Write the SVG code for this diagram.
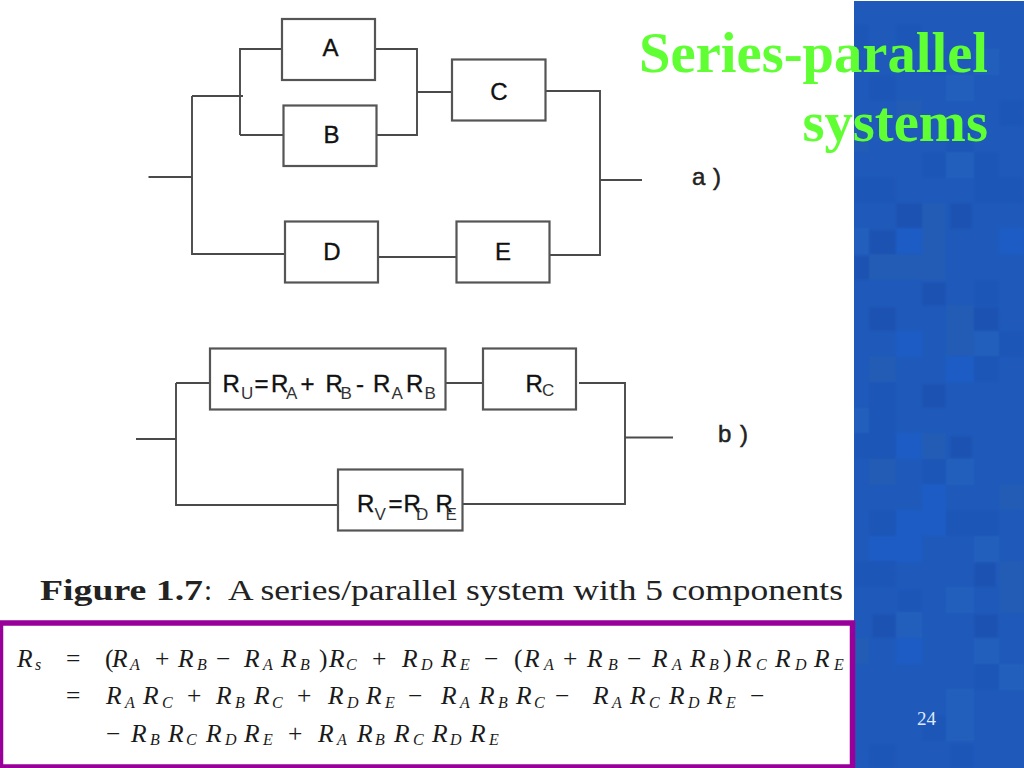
<svg xmlns="http://www.w3.org/2000/svg" width="1024" height="768" viewBox="0 0 1024 768">
<style>
.box{fill:#fff;stroke:#555;stroke-width:2.2}
.conn{fill:none;stroke:#4a4a4a;stroke-width:1.9}
.lab{font-family:"Liberation Sans",Arial,sans-serif;font-size:24px;fill:#111;stroke:#111;stroke-width:.35}
.labm{text-anchor:middle}
.sub{font-size:17px;fill:#333;stroke:none}
.tag{font-family:"Liberation Sans",Arial,sans-serif;font-size:24px;fill:#222;stroke:#222;stroke-width:.5}
.title{font-family:"Liberation Serif","Times New Roman",serif;font-weight:bold;font-size:56.6px;fill:#5fff33;text-anchor:end}
.cap{font-family:"Liberation Serif","Times New Roman",serif;font-size:29px;fill:#222}
.m{font-family:"Liberation Serif","Times New Roman",serif;font-size:25.5px;fill:#1a1a1a}
.i{font-style:italic}
.s{font-style:italic;font-size:16px}
.d{fill:#1d57b7}.D{fill:#1b53b2}.l{fill:#235ebc}.g{fill:#235bb5}.v{fill:#1c5cc4}
</style>
<defs>
<filter id="soft" x="-2%" y="-2%" width="104%" height="104%"><feGaussianBlur stdDeviation="1"/></filter>
<clipPath id="panel"><rect x="854" y="1" width="170" height="767"/></clipPath>
</defs>
<rect width="1024" height="768" fill="#fff"/>
<rect x="854" y="1" width="170" height="767" fill="#1f5abb"/>
<g clip-path="url(#panel)"><g id="tiles" filter="url(#soft)">
<rect class="d" x="854" y="24" width="15" height="26"/><rect class="d" x="896" y="24" width="26" height="26"/>
<rect class="d" x="922" y="49" width="24" height="26"/><rect class="l" x="974" y="49" width="25" height="26"/>
<rect class="d" x="869" y="75" width="27" height="26"/><rect class="l" x="946" y="75" width="28" height="26"/>
<rect class="d" x="999" y="100" width="25" height="26"/><rect class="g" x="896" y="100" width="26" height="26"/>
<rect class="g" x="854" y="126" width="15" height="26"/><rect class="d" x="946" y="126" width="28" height="26"/>
<rect class="d" x="922" y="152" width="24" height="26"/><rect class="l" x="946" y="152" width="28" height="26"/><rect class="d" x="974" y="152" width="25" height="26"/>
<rect class="d" x="854" y="177" width="42" height="26"/><rect class="d" x="974" y="177" width="50" height="26"/>
<rect class="D" x="896" y="203" width="26" height="26"/><rect class="g" x="922" y="203" width="24" height="26"/><rect class="D" x="950" y="203" width="22" height="26"/>
<rect class="l" x="854" y="228" width="15" height="26"/><rect class="D" x="869" y="230" width="27" height="24"/><rect class="v" x="896" y="228" width="26" height="26"/><rect class="g" x="922" y="228" width="24" height="26"/><rect class="v" x="999" y="228" width="25" height="26"/>
<rect class="D" x="854" y="256" width="15" height="24"/><rect class="g" x="869" y="254" width="77" height="26"/>
<rect class="D" x="922" y="282" width="24" height="24"/><rect class="d" x="974" y="280" width="25" height="26"/>
<rect class="D" x="869" y="307" width="27" height="24"/><rect class="g" x="946" y="305" width="28" height="26"/><rect class="D" x="974" y="307" width="25" height="24"/>
<rect class="v" x="896" y="331" width="26" height="26"/><rect class="g" x="946" y="331" width="28" height="26"/><rect class="l" x="974" y="331" width="25" height="26"/><rect class="d" x="999" y="331" width="25" height="26"/>
<rect class="g" x="869" y="356" width="27" height="26"/><rect class="v" x="946" y="356" width="28" height="26"/><rect class="d" x="974" y="356" width="25" height="26"/>
<rect class="d" x="869" y="382" width="27" height="26"/><rect class="D" x="922" y="384" width="24" height="24"/>
<rect class="l" x="854" y="408" width="15" height="26"/><rect class="d" x="869" y="408" width="27" height="26"/>
<rect class="d" x="854" y="433" width="42" height="26"/><rect class="v" x="896" y="433" width="26" height="26"/><rect class="g" x="922" y="433" width="24" height="26"/><rect class="D" x="950" y="436" width="22" height="22"/>
<rect class="g" x="869" y="459" width="27" height="26"/><rect class="d" x="922" y="459" width="24" height="26"/><rect class="l" x="946" y="459" width="28" height="26"/>
<rect class="v" x="922" y="484" width="24" height="26"/><rect class="g" x="999" y="484" width="25" height="26"/>
<rect class="d" x="869" y="510" width="27" height="26"/><rect class="v" x="896" y="510" width="50" height="26"/><rect class="d" x="946" y="510" width="53" height="26"/>
<rect class="v" x="869" y="536" width="53" height="26"/><rect class="l" x="974" y="536" width="25" height="26"/>
<rect class="d" x="854" y="561" width="42" height="26"/><rect class="D" x="974" y="563" width="22" height="24"/><rect class="g" x="999" y="561" width="25" height="26"/>
<rect class="d" x="898" y="589" width="24" height="22"/><rect class="l" x="946" y="587" width="28" height="26"/><rect class="g" x="999" y="587" width="25" height="26"/>
<rect class="D" x="872" y="614" width="24" height="24"/><rect class="l" x="896" y="612" width="26" height="26"/><rect class="D" x="974" y="614" width="24" height="24"/>
<rect class="g" x="854" y="638" width="15" height="26"/><rect class="v" x="896" y="638" width="26" height="26"/><rect class="l" x="974" y="638" width="25" height="26"/>
<rect class="d" x="974" y="664" width="25" height="26"/><rect class="l" x="999" y="664" width="25" height="26"/>
<rect class="l" x="946" y="689" width="28" height="52"/><rect class="d" x="922" y="715" width="24" height="26"/>
<rect class="d" x="869" y="744" width="27" height="24"/><rect class="d" x="950" y="744" width="24" height="24"/>
</g></g>

<g id="connectors" class="conn">
<path d="M148.500 177H192M192 96V254H285M192 96H243M240 135V49H282M240 135H284M375 49H417V135H376M417 92H452"/>
<path d="M378 257H459M549 255H600V91H545M600 180H642"/>
<path d="M136 439H176M176 383V505H338M176 383H210M445 383H486M579 383H625V504H462M625 437.500H673"/>
</g>

<g id="A"><rect class="box" x="282" y="19" width="93" height="61"/><text class="lab labm" x="330.500" y="56">A</text></g>
<g id="B"><rect class="box" x="283.500" y="105.500" width="93" height="60.500"/><text class="lab labm" x="331.500" y="143">B</text></g>
<g id="C"><rect class="box" x="452" y="59.500" width="93.500" height="61"/><text class="lab labm" x="499" y="100">C</text></g>
<g id="D"><rect class="box" x="285" y="221.500" width="93" height="61"/><text class="lab labm" x="332" y="260">D</text></g>
<g id="E"><rect class="box" x="456.500" y="221.500" width="93" height="61"/><text class="lab labm" x="503" y="260">E</text></g>
<text id="tag-a" class="tag" x="692" y="185" textLength="29">a )</text>

<g id="RU"><rect class="box" x="210" y="348.500" width="235.500" height="61"/>
<text class="lab" y="391.500"><tspan x="222.500">R</tspan><tspan class="sub" x="241" y="399">U</tspan><tspan x="254.500" y="391.500">=</tspan><tspan x="271">R</tspan><tspan class="sub" x="286" y="399">A</tspan><tspan x="300.500" y="391.500">+</tspan><tspan x="325.500">R</tspan><tspan class="sub" x="340.500" y="399">B</tspan><tspan x="356" y="391.500">-</tspan><tspan x="373">R</tspan><tspan class="sub" x="391.500" y="399">A</tspan><tspan x="406" y="391.500">R</tspan><tspan class="sub" x="424.500" y="399">B</tspan></text></g>
<g id="RC"><rect class="box" x="483" y="348.500" width="93" height="61"/>
<text class="lab" y="391.500"><tspan x="525.500">R</tspan><tspan class="sub" x="542" y="396">C</tspan></text></g>
<g id="RV"><rect class="box" x="338" y="469.500" width="124.500" height="61"/>
<text class="lab" y="511.500"><tspan x="357">R</tspan><tspan class="sub" x="374.500" y="520">V</tspan><tspan x="388.500" y="511.500">=</tspan><tspan x="403.500">R</tspan><tspan class="sub" x="416" y="520">D</tspan><tspan x="435.500" y="511.500">R</tspan><tspan class="sub" x="445.500" y="520">E</tspan></text></g>
<text id="tag-b" class="tag" x="718" y="441.500" textLength="30">b )</text>

<text class="cap" y="600" x="40" font-weight="bold" textLength="163" lengthAdjust="spacingAndGlyphs">Figure 1.7</text>
<text class="cap" y="600" x="204">:</text>
<text class="cap" y="600" x="228" textLength="615" lengthAdjust="spacingAndGlyphs">A series/parallel system with 5 components</text>

<g id="frame"><rect x="0.500" y="623" width="852" height="144" fill="#fff" stroke="#990099" stroke-width="5.500"/></g>

<g id="equation">
<text class="m" y="666.500"><tspan class="i" x="17">R</tspan><tspan class="s" x="35" y="670">s</tspan><tspan x="66" y="666.500">=</tspan><tspan x="105">(</tspan><tspan class="i" x="112">R</tspan><tspan class="s" x="130" y="670">A</tspan><tspan x="155" y="666.500">+</tspan><tspan class="i" x="178">R</tspan><tspan class="s" x="197" y="670">B</tspan><tspan x="216" y="666.500">−</tspan><tspan class="i" x="244">R</tspan><tspan class="s" x="263" y="670">A</tspan><tspan class="i" x="281" y="666.500">R</tspan><tspan class="s" x="300" y="670">B</tspan><tspan x="319" y="666.500">)</tspan><tspan class="i" x="329">R</tspan><tspan class="s" x="346" y="670">C</tspan><tspan x="372" y="666.500">+</tspan><tspan class="i" x="402">R</tspan><tspan class="s" x="421" y="670">D</tspan><tspan class="i" x="441" y="666.500">R</tspan><tspan class="s" x="460" y="670">E</tspan><tspan x="484" y="666.500">−</tspan><tspan x="514">(</tspan><tspan class="i" x="524">R</tspan><tspan class="s" x="544" y="670">A</tspan><tspan x="563" y="666.500">+</tspan><tspan class="i" x="587">R</tspan><tspan class="s" x="608" y="670">B</tspan><tspan x="627" y="666.500">−</tspan><tspan class="i" x="652">R</tspan><tspan class="s" x="672" y="670">A</tspan><tspan class="i" x="690" y="666.500">R</tspan><tspan class="s" x="709" y="670">B</tspan><tspan x="723" y="666.500">)</tspan><tspan class="i" x="736">R</tspan><tspan class="s" x="756" y="670">C</tspan><tspan class="i" x="775" y="666.500">R</tspan><tspan class="s" x="795" y="670">D</tspan><tspan class="i" x="814" y="666.500">R</tspan><tspan class="s" x="834" y="670">E</tspan></text>
<text class="m" y="704"><tspan x="66">=</tspan><tspan class="i" x="106">R</tspan><tspan class="s" x="125" y="707.500">A</tspan><tspan class="i" x="143" y="704">R</tspan><tspan class="s" x="162" y="707.500">C</tspan><tspan x="187" y="704">+</tspan><tspan class="i" x="216">R</tspan><tspan class="s" x="235" y="707.500">B</tspan><tspan class="i" x="254" y="704">R</tspan><tspan class="s" x="272" y="707.500">C</tspan><tspan x="297" y="704">+</tspan><tspan class="i" x="328">R</tspan><tspan class="s" x="347" y="707.500">D</tspan><tspan class="i" x="366" y="704">R</tspan><tspan class="s" x="385" y="707.500">E</tspan><tspan x="408" y="704">−</tspan><tspan class="i" x="441">R</tspan><tspan class="s" x="460" y="707.500">A</tspan><tspan class="i" x="479" y="704">R</tspan><tspan class="s" x="498" y="707.500">B</tspan><tspan class="i" x="516" y="704">R</tspan><tspan class="s" x="534" y="707.500">C</tspan><tspan x="555" y="704">−</tspan><tspan class="i" x="593">R</tspan><tspan class="s" x="612" y="707.500">A</tspan><tspan class="i" x="630" y="704">R</tspan><tspan class="s" x="649" y="707.500">C</tspan><tspan class="i" x="669" y="704">R</tspan><tspan class="s" x="688" y="707.500">D</tspan><tspan class="i" x="707" y="704">R</tspan><tspan class="s" x="726" y="707.500">E</tspan><tspan x="750" y="704">−</tspan></text>
<text class="m" y="741.500"><tspan x="106">−</tspan><tspan class="i" x="131">R</tspan><tspan class="s" x="150" y="745">B</tspan><tspan class="i" x="168" y="741.500">R</tspan><tspan class="s" x="186" y="745">C</tspan><tspan class="i" x="206" y="741.500">R</tspan><tspan class="s" x="225" y="745">D</tspan><tspan class="i" x="244" y="741.500">R</tspan><tspan class="s" x="263" y="745">E</tspan><tspan x="288" y="741.500">+</tspan><tspan class="i" x="318">R</tspan><tspan class="s" x="337" y="745">A</tspan><tspan class="i" x="357" y="741.500">R</tspan><tspan class="s" x="375" y="745">B</tspan><tspan class="i" x="394" y="741.500">R</tspan><tspan class="s" x="413" y="745">C</tspan><tspan class="i" x="432" y="741.500">R</tspan><tspan class="s" x="450" y="745">D</tspan><tspan class="i" x="470" y="741.500">R</tspan><tspan class="s" x="489" y="745">E</tspan></text>
</g>

<text class="title" x="988" y="71.500">Series-parallel</text>
<text class="title" x="988" y="141">systems</text>
<text x="917" y="725" font-family="Liberation Serif, serif" font-size="19" fill="#dfe9fb">24</text>
</svg>
